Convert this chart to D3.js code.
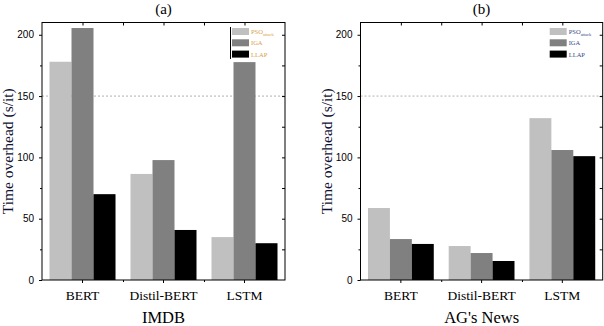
<!DOCTYPE html>
<html><head><meta charset="utf-8">
<script src="https://cdn.jsdelivr.net/npm/d3@7"></script>
<style>body{margin:0;background:#fff}svg{display:block}</style>
</head><body>
<svg id="c" width="604" height="326"></svg>
<script>
const categories = ["BERT", "Distil-BERT", "LSTM"];
const seriesNames = ["PSO", "IGA", "LLAP"];
const imdbPSO  = [178, 86.5, 35];
const imdbIGA  = [205.5, 97.8, 177.7];
const imdbLLAP = [70, 40.8, 30];
const agPSO  = [58.7, 27.7, 132];
const agIGA  = [33.4, 22, 106];
const agLLAP = [29.4, 15.5, 101];
const yTicks = [0, 50, 100, 150, 200];
const yMinor = [25, 75, 125, 175];
const refValue = 150;
const colors = ["#c0c0c0", "#808080", "#000000"];

const SERIF = "'Liberation Serif', 'Times New Roman', serif";
const SANS = "'Liberation Sans', Arial, sans-serif";
const svg = d3.select("#c");
const plotTop = 22.5, plotBottom = 280;
const y = d3.scaleLinear().domain([0, 210]).range([plotBottom, plotTop]);

function panel(x0, x1, title, xTitle, data, legendColor, legendLine) {
  const g = svg.append("g");
  const x = d3.scaleBand().domain(categories).range([x0, x1]).paddingInner(0.185).paddingOuter(0.0926);
  const xi = d3.scaleBand().domain(seriesNames).range([0, x.bandwidth()]);
  const step = x.step();
  const bounds = d3.range(1, categories.length).map(i => x0 + step * i);
  g.append("line").attr("x1", x0).attr("x2", x1).attr("y1", y(refValue)).attr("y2", y(refValue))
    .attr("stroke", "#b0b0b0").attr("stroke-width", 1).attr("stroke-dasharray", "2,2");
  categories.forEach((c, ci) => {
    seriesNames.forEach((s, si) => {
      const v = data[si][ci];
      g.append("rect").attr("x", x(c) + xi(s)).attr("width", xi.bandwidth())
        .attr("y", y(v)).attr("height", y(0) - y(v)).attr("fill", colors[si]);
    });
  });
  g.append("rect").attr("x", x0).attr("y", plotTop).attr("width", x1 - x0).attr("height", plotBottom - plotTop)
    .attr("fill", "none").attr("stroke", "#000").attr("stroke-width", 1);
  const yAxis = d3.axisLeft(y).tickValues(yTicks).tickSize(3).tickPadding(5).tickFormat(d3.format("d"));
  const ya = g.append("g").attr("transform", `translate(${x0},0)`).call(yAxis);
  ya.select(".domain").remove();
  ya.selectAll("text").style("font-family", SANS).style("font-size", "10px").attr("fill", "#000");
  const ym = g.append("g").attr("transform", `translate(${x0},0)`)
    .call(d3.axisLeft(y).tickValues(yMinor).tickSize(2).tickFormat(""));
  ym.select(".domain").remove();
  const yr = g.append("g").attr("transform", `translate(${x1},0)`)
    .call(d3.axisRight(y).tickValues(yTicks.concat(yMinor).filter(v => v > 0)).tickSize(-3).tickFormat(""));
  yr.select(".domain").remove();
  const xa = g.append("g").attr("transform", `translate(0,${plotBottom})`).call(d3.axisBottom(x).tickSize(3).tickPadding(7));
  xa.select(".domain").remove();
  xa.selectAll("text").style("font-family", SERIF).style("font-size", "13.5px").attr("fill", "#000");
  const bScale = d3.scaleLinear().domain([x0, x1]).range([x0, x1]);
  const xb = g.append("g").attr("transform", `translate(0,${plotBottom})`)
    .call(d3.axisBottom(bScale).tickValues(bounds).tickSize(2).tickFormat(""));
  xb.select(".domain").remove();
  const xt = g.append("g").attr("transform", `translate(0,${plotTop})`)
    .call(d3.axisTop(bScale).tickValues(bounds.concat(categories.map(c => x(c) + x.bandwidth() / 2))).tickSize(-3).tickFormat(""));
  xt.select(".domain").remove();
  g.selectAll(".tick line").attr("stroke", "#000");
  const cx = (x0 + x1) / 2;
  g.append("text").attr("x", cx).attr("y", 14).attr("text-anchor", "middle")
    .style("font-family", SERIF).style("font-size", "15px").text(title);
  g.append("text").attr("x", cx).attr("y", 323).attr("text-anchor", "middle")
    .style("font-family", SERIF).style("font-size", "16.5px").text(xTitle);
  g.append("text").attr("transform", `translate(${x0 - 29},${(plotTop + plotBottom) / 2}) rotate(-90)`)
    .attr("text-anchor", "middle").style("font-family", SERIF)
    .style("font-size", "15.5px").attr("fill", "#111133").text("Time overhead (s/it)");
  const lx = x1 - 53, ly = 28;
  if (legendLine) {
    g.append("line").attr("x1", lx - 1.5).attr("x2", lx - 1.5).attr("y1", ly - 1).attr("y2", ly + 31)
      .attr("stroke", "#000").attr("stroke-width", 1);
  }
  seriesNames.forEach((s, i) => {
    g.append("rect").attr("x", lx).attr("y", ly + i * 11.3).attr("width", 17).attr("height", 7).attr("fill", colors[i]);
    const t = g.append("text").attr("x", lx + 19).attr("y", ly + i * 11.3 + 6)
      .style("font-family", SERIF).style("font-size", "6.5px").attr("fill", legendColor);
    t.append("tspan").text(s);
    if (i === 0) t.append("tspan").attr("dy", 2).style("font-size", "4.5px").text("attack");
  });
}

panel(42, 285, "(a)", "IMDB", [imdbPSO, imdbIGA, imdbLLAP], "#d9a04a", true);
panel(360.5, 602.7, "(b)", "AG's News", [agPSO, agIGA, agLLAP], "#3a4a8a", false);
</script>
</body></html>
